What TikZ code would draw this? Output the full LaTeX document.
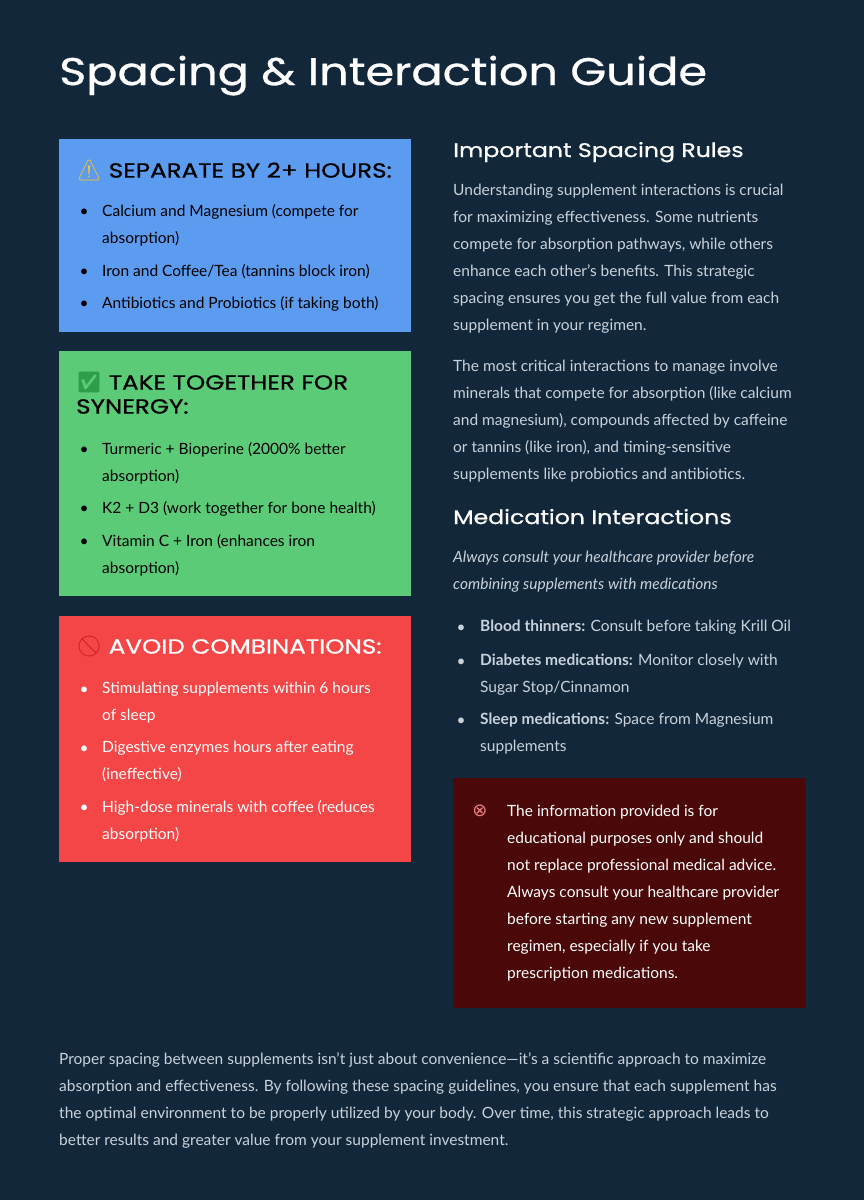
\documentclass[tikz,border=0pt]{standalone}
\usepackage{fontspec}
\setmainfont{Lato}
\newfontfamily\headf{Poppins}[FakeBold=0.8,FakeStretch=1.2]
\newfontfamily\emo{Noto Emoji}
\newfontfamily\dvs{DejaVu Sans}
\definecolor{bg}{HTML}{12283A}
\definecolor{bluebox}{HTML}{5B9BF0}
\definecolor{greenbox}{HTML}{5CCB78}
\definecolor{redbox}{HTML}{F44646}
\definecolor{darkred}{HTML}{4A0808}
\definecolor{bodygrey}{HTML}{C9D1DA}
\definecolor{pinkx}{HTML}{F08080}
\definecolor{warnyel}{HTML}{F7C22E}
\definecolor{checkgr}{HTML}{2E9E4A}
\definecolor{nored}{HTML}{C81E1E}
\tikzset{
  txt/.style={anchor=north west,inner sep=0pt,align=left,font=\fontsize{15.5}{27}\selectfont},
  boxhead/.style={anchor=north west,inner sep=0pt,align=left,font=\headf\fontsize{20.5}{24}\selectfont},
  righthead/.style={anchor=base west,inner sep=0pt,font=\headf\fontsize{19.7}{24}\selectfont,text=white},
  bul/.style={anchor=base,inner sep=0pt,font=\fontsize{15.5}{27}\selectfont},
}
\begin{document}
\begin{tikzpicture}[x=1pt,y=-1pt]
\fill[bg] (0,0) rectangle (864,1200);
\useasboundingbox (0,0) rectangle (864,1200);
\node[anchor=base west,inner sep=0pt,text=white,font=\headf\fontsize{38.5}{48}\selectfont] (title) at (59,85) {Spacing \& Interaction Guide};
% blue
\fill[bluebox] (59,139) rectangle (411,332);
\node[boxhead] (h1) at (76,160) {{\emo\color{warnyel}⚠}\ SEPARATE BY 2+ HOURS:};
\foreach \y/\t/\n in {216/{Calcium and Magnesium (compete for\\absorption)}/a, 276/{Iron and Coffee/Tea (tannins block iron)}/b, 308/{Antibiotics and Probiotics (if taking both)}/c}{
  \node[bul] (b1\n) at (84,\y) {\textbullet};
  \node[txt] (t1\n) at (102,\y-12) {\t};}
% green
\fill[greenbox] (59,351) rectangle (411,596);
\node[boxhead] (h2) at (76,372) {{\emo\color{checkgr}✅}\ TAKE TOGETHER FOR\\SYNERGY:};
\foreach \y/\t/\n in {454/{Turmeric + Bioperine (2000\% better\\absorption)}/a, 513/{K2 + D3 (work together for bone health)}/b, 546/{Vitamin C + Iron (enhances iron\\absorption)}/c}{
  \node[bul] (b2\n) at (84,\y) {\textbullet};
  \node[txt] (t2\n) at (102,\y-12) {\t};}
% red
\fill[redbox] (59,616) rectangle (411,862);
\node[boxhead,text=white] (h3) at (76,636) {{\emo\color{nored}🚫}\ AVOID COMBINATIONS:};
\foreach \y/\t/\n in {694/{Stimulating supplements within 6 hours\\of sleep}/a, 753/{Digestive enzymes hours after eating\\(ineffective)}/b, 812/{High-dose minerals with coffee (reduces\\absorption)}/c}{
  \node[bul,text=white] (b3\n) at (84,\y) {\textbullet};
  \node[txt,text=white] (t3\n) at (102,\y-12) {\t};}
% right column
\node[righthead] (r1) at (453,157) {Important Spacing Rules};
\node[txt,text=bodygrey] (p1) at (453,184) {Understanding supplement interactions is crucial\\for maximizing effectiveness. Some nutrients\\compete for absorption pathways, while others\\enhance each other's benefits. This strategic\\spacing ensures you get the full value from each\\supplement in your regimen.};
\node[txt,text=bodygrey] (p2) at (453,360) {The most critical interactions to manage involve\\minerals that compete for absorption (like calcium\\and magnesium), compounds affected by caffeine\\or tannins (like iron), and timing-sensitive\\supplements like probiotics and antibiotics.};
\node[righthead] (r2) at (453,524) {Medication Interactions};
\node[txt,text=bodygrey,font=\itshape\fontsize{15.5}{27}\selectfont] (p3) at (453,551) {Always consult your healthcare provider before\\combining supplements with medications};
\foreach \y/\t/\n in {632/{\textbf{Blood thinners:} Consult before taking Krill Oil}/a, 666/{\textbf{Diabetes medications:} Monitor closely with\\Sugar Stop/Cinnamon}/b, 725/{\textbf{Sleep medications:} Space from Magnesium\\supplements}/c}{
  \node[bul,text=bodygrey] (b4\n) at (461,\y) {\textbullet};
  \node[txt,text=bodygrey] (t4\n) at (480,\y-12) {\t};}
\fill[darkred] (453,778) rectangle (806,1008);
\node[anchor=center,inner sep=0pt,text=pinkx,font=\dvs\fontsize{18}{18}\selectfont] (ix) at (480,811) {⊗};
\node[txt,text=white] (disc) at (507,805) {The information provided is for\\educational purposes only and should\\not replace professional medical advice.\\Always consult your healthcare provider\\before starting any new supplement\\regimen, especially if you take\\prescription medications.};
\node[txt,text=bodygrey] (foot) at (59,1052) {Proper spacing between supplements isn't just about convenience---it's a scientific approach to maximize\\absorption and effectiveness. By following these spacing guidelines, you ensure that each supplement has\\the optimal environment to be properly utilized by your body. Over time, this strategic approach leads to\\better results and greater value from your supplement investment.};
\end{tikzpicture}
\end{document}
